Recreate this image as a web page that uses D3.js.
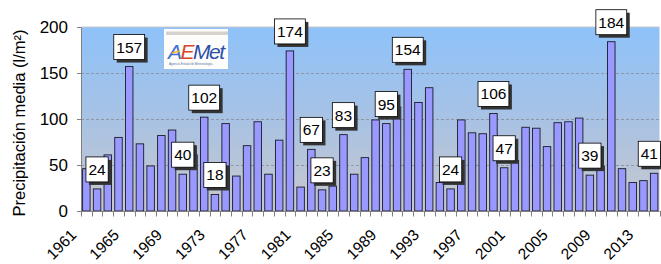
<!DOCTYPE html>
<html><head><meta charset="utf-8">
<script src="https://cdn.jsdelivr.net/npm/d3@7"></script>
<style>
body{margin:0;background:#fff}
svg{display:block}
text{font-family:"Liberation Sans",Arial,sans-serif}
</style>
</head><body>
<svg id="c" width="661" height="264"></svg>
<script>
const years = [1961,1962,1963,1964,1965,1966,1967,1968,1969,1970,
  1971,1972,1973,1974,1975,1976,1977,1978,1979,1980,
  1981,1982,1983,1984,1985,1986,1987,1988,1989,1990,
  1991,1992,1993,1994,1995,1996,1997,1998,1999,2000,
  2001,2002,2003,2004,2005,2006,2007,2008,2009,2010,
  2011,2012,2013,2014];
const precip = [46,24,61,80,157,73,49,82,88,40,
  61,102,18,95,38,71,97,40,77,174,
  26,67,23,27,83,40,58,99,95,113,
  154,118,134,31,24,99,85,84,106,47,
  55,91,90,70,96,97,101,39,49,184,
  46,31,33,41];
const labeledYears = [1962,1965,1970,1972,1973,1980,1982,1983,1985,1989,1991,1995,1999,2000,2008,2010,2014];
const xTickLabels = ["1961","1965","1969","1973","1977","1981","1985","1989","1993","1997","2001","2005","2009","2013"];
const yTicks = [0,50,100,150,200];
const yTitle = "Precipitación media (l/m²)";

const W = 661, H = 264, m = {l:81, r:1.5, t:27, b:53};
const svg = d3.select("#c");
const data = years.map((yr,i)=>({year:yr, v:precip[i]}));

const x = d3.scaleBand().domain(years).range([m.l, W-m.r]).paddingInner(0.3).paddingOuter(0.15);
const y = d3.scaleLinear().domain([0,200]).range([H-m.b, m.t]);
const step = x.step();
const bw = x.bandwidth();
const cellLeft = d => x(d) - step*0.15;

// gradient background
const defs = svg.append("defs");
const g = defs.append("linearGradient").attr("id","bg").attr("x1",0).attr("y1",0).attr("x2",0).attr("y2",1);
g.append("stop").attr("offset","0%").attr("stop-color","#8EC2F9");
g.append("stop").attr("offset","50%").attr("stop-color","#A8C2E4");
g.append("stop").attr("offset","100%").attr("stop-color","#C8C8CC");
svg.append("rect").attr("x",m.l).attr("y",y(200)).attr("width",W-m.r-m.l).attr("height",y(0)-y(200)).attr("fill","url(#bg)");
svg.append("line").attr("x1",m.l).attr("x2",W-m.r).attr("y1",y(200)).attr("y2",y(200)).attr("stroke","#c8c8c8").attr("stroke-width",1);

// gridlines
svg.append("g").selectAll("line").data(yTicks.filter(t=>t>0&&t<200)).join("line")
  .attr("x1",m.l).attr("x2",W-m.r).attr("y1",d=>Math.round(y(d))+0.5).attr("y2",d=>Math.round(y(d))+0.5)
  .attr("stroke","#8a8a95").attr("stroke-width",0.8).attr("stroke-dasharray","3,2");

// logo
const logo = svg.append("g");
logo.append("rect").attr("x",164).attr("y",29).attr("width",64).attr("height",40).attr("fill","#fdfdfb");
logo.append("rect").attr("x",166).attr("y",31.5).attr("width",62).attr("height",3.5).attr("fill","#d6d3cf");
const lt = logo.append("text").attr("x",168).attr("y",59).attr("font-size",21).attr("font-style","italic")
  .attr("font-family","'DejaVu Serif',serif").attr("letter-spacing",-1.5);
lt.append("tspan").attr("fill","#3f6fd0").text("A");
lt.append("tspan").attr("fill","#d8452c").text("E");
lt.append("tspan").attr("fill","#2b4fa8").text("Met");
logo.append("line").attr("x1",172).attr("x2",180).attr("y1",53).attr("y2",51).attr("stroke","#f2b630").attr("stroke-width",1.5);
logo.append("text").attr("x",169).attr("y",65).attr("font-size",3).attr("fill","#5570a8").text("Agencia Estatal de Meteorología");

// bars
svg.append("g").selectAll("rect").data(data).join("rect")
  .attr("x",d=>x(d.year)).attr("y",d=>y(d.v)).attr("width",bw).attr("height",d=>y(0)-y(d.v))
  .attr("fill","#9999FF").attr("stroke","#1a1a2a").attr("stroke-width",0.9);

// y axis
const ya = svg.append("g").attr("transform",`translate(${m.l},0)`)
  .call(d3.axisLeft(y).tickValues(yTicks).tickSize(4).tickPadding(9).tickSizeOuter(0));
ya.select(".domain").attr("stroke","#808080");
ya.selectAll(".tick line").attr("stroke","#808080");
ya.selectAll(".tick text").attr("font-size",17).attr("fill","#000").attr("font-family","'Liberation Sans',Arial,sans-serif");

// x axis baseline and boundary ticks
svg.append("line").attr("x1",m.l).attr("x2",W-m.r).attr("y1",y(0)+0.5).attr("y2",y(0)+0.5).attr("stroke","#808080");
const bounds = years.map(cellLeft).concat([W-m.r]);
svg.append("g").selectAll("line").data(bounds).join("line")
  .attr("x1",d=>Math.round(d)+0.5).attr("x2",d=>Math.round(d)+0.5).attr("y1",y(0)).attr("y2",y(0)+5.5)
  .attr("stroke","#808080");

// x labels
svg.append("g").selectAll("text").data(xTickLabels).join("text")
  .attr("transform",d=>`translate(${x(+d)+bw/2-9},236) rotate(-45)`)
  .attr("text-anchor","end").attr("font-size",15.5).attr("fill","#000").text(d=>d);

// y title
svg.append("text").attr("transform",`translate(25,${(y(0)+y(200))/2+4}) rotate(-90)`)
  .attr("text-anchor","middle").attr("font-size",16.5).attr("fill","#000").text(yTitle);

// data labels
const lab = svg.append("g").selectAll("g").data(data.filter(d=>labeledYears.includes(d.year))).join("g");
lab.each(function(d){
  const gg = d3.select(this);
  const t = gg.append("text").attr("font-size",15.5).attr("text-anchor","middle").attr("fill","#000").text(d.v);
  const tw = t.node().getComputedTextLength();
  const cx = Math.min(x(d.year)+bw/2, W - 3 - tw/2);
  gg.attr("transform",`translate(${cx},${y(d.v)-7})`);
  const bwid = tw+5, bh = 25;
  gg.insert("rect","text").attr("x",-bwid/2+3).attr("y",-bh+3).attr("width",bwid).attr("height",bh).attr("fill","#333");
  gg.insert("rect","text").attr("x",-bwid/2).attr("y",-bh).attr("width",bwid).attr("height",bh)
    .attr("fill","#fff").attr("stroke","#000").attr("stroke-width",0.8);
  t.attr("y",-bh/2+5.5);
});
</script>
</body></html>
